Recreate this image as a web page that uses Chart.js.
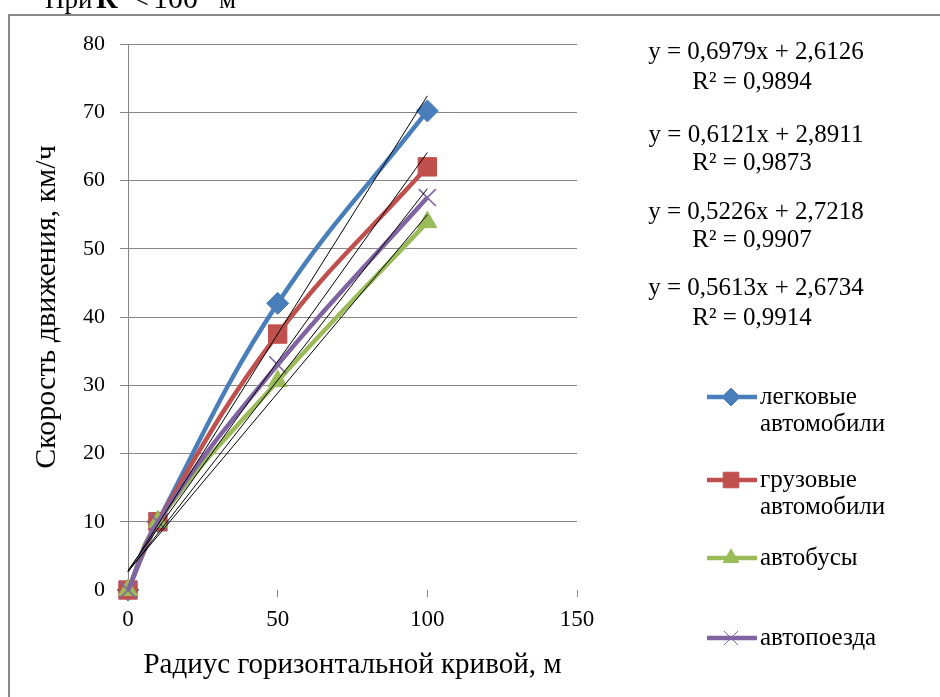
<!DOCTYPE html>
<html><head><meta charset="utf-8">
<script src="https://cdn.jsdelivr.net/npm/chart.js@4.4.1/dist/chart.umd.min.js"></script>
<style>html,body{margin:0;padding:0;background:#fff;overflow:hidden}</style></head>
<body><canvas id="c" width="940" height="697"></canvas>
<script>
// ---- data ----
const radiusValues = [0, 10, 50, 100];
const carsSpeed    = [0, 10, 42.0, 70.2];
const trucksSpeed  = [0, 10, 37.5, 62.0];
const busesSpeed   = [0, 10, 30.6, 53.9];
const trainsSpeed  = [0, 10, 33.0, 57.5];
const seriesNames  = [["легковые", "автомобили"], ["грузовые", "автомобили"], ["автобусы"], ["автопоезда"]];
const trendSlopes     = [0.6979, 0.6121, 0.5226, 0.5613];
const trendIntercepts = [2.6126, 2.8911, 2.7218, 2.6734];
const trendLabels = [
  ["y = 0,6979x + 2,6126", "R² = 0,9894"],
  ["y = 0,6121x + 2,8911", "R² = 0,9873"],
  ["y = 0,5226x + 2,7218", "R² = 0,9907"],
  ["y = 0,5613x + 2,6734", "R² = 0,9914"]
];
const trendRange = [0, 100];
const xTicks = [0, 50, 100, 150];
const yTicks = [0, 10, 20, 30, 40, 50, 60, 70, 80];
const xTitle = 'Радиус горизонтальной кривой, м';
const yTitle = 'Скорость движения, км/ч';

// ---- styles ----
const seriesValues = [carsSpeed, trucksSpeed, busesSpeed, trainsSpeed];
const colors = ['#4A7EBB', '#C0504D', '#9BBB59', '#8064A2'];
const styles = ['rectRot', 'rect', 'triangle', 'crossRot'];
const radii = [11, 13, 11, 12];
const FONT = '"Times New Roman", "Liberation Serif", "DejaVu Serif", serif';

const datasets = [];
trendSlopes.forEach((k, i) => {
  datasets.push({
    label: 'trend' + i,
    data: trendRange.map(x => ({x: x, y: k * x + trendIntercepts[i]})),
    showLine: true, borderColor: '#000', borderWidth: 1, pointRadius: 0,
    tension: 0, clip: false, order: 0
  });
});
seriesValues.forEach((vals, i) => {
  datasets.push({
    label: seriesNames[i].join(' '),
    data: radiusValues.map((x, j) => ({x: x, y: vals[j]})),
    showLine: true, borderColor: colors[i], borderWidth: 4.5, tension: 0.4,
    pointStyle: styles[i], pointRadius: radii[i], pointHoverRadius: radii[i],
    pointBackgroundColor: colors[i], pointBorderColor: colors[i],
    pointBorderWidth: styles[i] === 'crossRot' ? 1.6 : 1,
    clip: false, order: 4 - i
  });
});

const decor = {
  id: 'decor',
  afterDraw(chart) {
    const ctx = chart.ctx;
    ctx.save();
    // frame
    ctx.strokeStyle = '#888';
    ctx.lineWidth = 2;
    ctx.beginPath();
    ctx.moveTo(9, 697); ctx.lineTo(9, 15); ctx.lineTo(940, 15);
    ctx.stroke();
    // top (cut) caption
    ctx.fillStyle = '#000';
    ctx.textBaseline = 'alphabetic';
    ctx.textAlign = 'left';
    ctx.font = '27px ' + FONT;
    ctx.fillText('При', 45, 8);
    ctx.font = 'bold 30px ' + FONT;
    ctx.fillText('R', 96, 8);
    ctx.font = '30px ' + FONT;
    ctx.fillText('<', 132, 8);
    ctx.fillText('100', 153, 8);
    ctx.font = '27px ' + FONT;
    ctx.fillText('м', 219, 8);
    // y axis title
    ctx.save();
    ctx.translate(47, 307);
    ctx.rotate(-Math.PI / 2);
    ctx.textAlign = 'center';
    ctx.textBaseline = 'middle';
    ctx.font = '30px ' + FONT;
    ctx.fillText(yTitle, 0, 0);
    ctx.restore();
    // equations
    ctx.textAlign = 'center';
    ctx.textBaseline = 'middle';
    ctx.font = '25px ' + FONT;
    const eqY = [[52, 82], [135, 163], [212, 240], [288, 318]];
    trendLabels.forEach((lines, i) => {
      ctx.fillText(lines[0], 756, eqY[i][0]);
      ctx.fillText(lines[1], 752, eqY[i][1]);
    });
    // legend
    const legY = [397, 480, 558, 638];
    ctx.textAlign = 'left';
    ctx.font = '25px ' + FONT;
    seriesNames.forEach((names, i) => {
      const y = legY[i];
      ctx.strokeStyle = colors[i];
      ctx.lineWidth = 4.5;
      ctx.lineCap = 'butt';
      ctx.beginPath(); ctx.moveTo(707, y); ctx.lineTo(757, y); ctx.stroke();
      ctx.fillStyle = colors[i];
      ctx.strokeStyle = colors[i];
      ctx.lineWidth = 1;
      Chart.helpers.drawPoint(ctx, {
        pointStyle: styles[i], rotation: 0,
        radius: radii[i] - 2, borderWidth: 1
      }, 731, y);
      ctx.fillStyle = '#000';
      names.forEach((t, j) => ctx.fillText(t, 760, y + j * 27));
    });
    ctx.restore();
  }
};

new Chart(document.getElementById('c'), {
  type: 'scatter',
  data: {datasets: datasets},
  options: {
    responsive: false, animation: false, devicePixelRatio: 1,
    layout: {padding: {left: 0, top: 44, right: 363, bottom: 0}},
    plugins: {legend: {display: false}, tooltip: {enabled: false}},
    scales: {
      x: {
        type: 'linear', min: 0, max: 150,
        afterBuildTicks: s => { s.ticks = xTicks.map(v => ({value: v})); },
        ticks: {color: '#000', font: {family: FONT, size: 23}, padding: 9, maxRotation: 0},
        grid: {display: true, drawOnChartArea: false, drawTicks: true, tickLength: 7, color: '#868686'},
        border: {display: false},
        title: {display: true, text: xTitle, color: '#000',
                font: {family: FONT, size: 29}, padding: {top: 0, bottom: 14}},
        afterFit: s => { s.height = 107; }
      },
      y: {
        type: 'linear', min: 0, max: 80,
        afterBuildTicks: s => { s.ticks = yTicks.map(v => ({value: v})); },
        ticks: {color: '#000', font: {family: FONT, size: 22}, padding: 15},
        grid: {color: c => (c.tick && c.tick.value === 0) ? 'rgba(0,0,0,0)' : '#868686',
               tickLength: 8, lineWidth: 1},
        border: {display: true, color: '#868686', width: 1},
        title: {display: false},
        afterFit: s => { s.width = 128; }
      }
    }
  },
  plugins: [decor]
});
</script>
</body></html>
